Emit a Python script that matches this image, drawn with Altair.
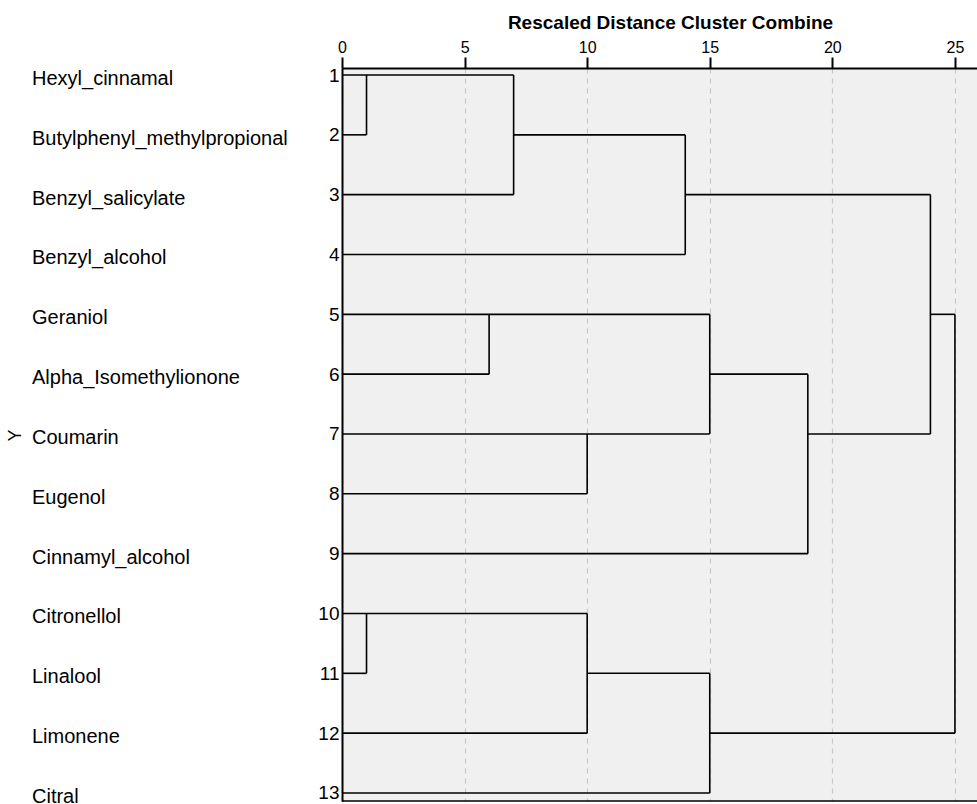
import altair as alt
import pandas as pd

# Leaf order (top to bottom) and their case numbers
names = ["Hexyl_cinnamal", "Butylphenyl_methylpropional", "Benzyl_salicylate",
         "Benzyl_alcohol", "Geraniol", "Alpha_Isomethylionone", "Coumarin",
         "Eugenol", "Cinnamyl_alcohol", "Citronellol", "Linalool", "Limonene", "Citral"]
rows = list(range(1, 14))

# Horizontal dendrogram segments: start distance, end distance, row
h_x1 = [0, 0, 7, 0, 14, 0, 0, 24, 0, 15, 0, 19, 0, 0, 0, 0, 10, 0, 15, 0]
h_x2 = [7, 1, 14, 7, 24, 14, 15, 25, 6, 19, 15, 24, 10, 19, 10, 1, 15, 10, 25, 15]
h_row = [1, 2, 2, 3, 3, 4, 5, 5, 6, 6, 7, 7, 8, 9, 10, 11, 11, 12, 12, 13]

# Vertical dendrogram segments: distance, top row, bottom row
v_x = [1, 7, 14, 6, 10, 15, 19, 24, 1, 10, 15, 25]
v_r1 = [1, 1, 2, 5, 7, 5, 6, 3, 10, 10, 11, 5]
v_r2 = [2, 3, 4, 6, 8, 7, 9, 7, 11, 12, 13, 12]

tick_values = [0, 5, 10, 15, 20, 25]

FONT = "Liberation Sans"

segs = pd.DataFrame({
    "x1": h_x1 + v_x,
    "x2": h_x2 + v_x,
    "y1": h_row + v_r1,
    "y2": h_row + v_r2,
})
leaves = pd.DataFrame({"row": rows, "name": names})

xscale = alt.Scale(domain=[0, 25.9], nice=False, zero=False)
yscale = alt.Scale(domain=[0.883, 13.134], nice=False, zero=False, reverse=True)

y_axis = alt.Axis(
    values=rows, format="d", title="Y",
    titleFont=FONT, titleFontSize=18, titleFontWeight="normal", titleColor="#000000",
    titleX=-327, titleY=367, titleAlign="center", titleBaseline="middle",
    labelFont=FONT, labelFontSize=19, labelColor="#000000", labelPadding=3,
    labelFlush=False, labelOverlap=False,
    ticks=False, grid=False,
    domainColor="#000000", domainWidth=2)

lines = alt.Chart(segs).mark_rule(color="#000000", strokeWidth=1.6).encode(
    x=alt.X("x1:Q", scale=xscale, axis=alt.Axis(
        orient="top", values=tick_values, title="Rescaled Distance Cluster Combine",
        titleFont=FONT, titleFontSize=19, titleFontWeight="bold", titleColor="#000000",
        titleX=328, titleY=-46, titleAlign="center", titleBaseline="middle", titleAngle=0,
        labelFont=FONT, labelFontSize=16, labelColor="#000000", labelPadding=2,
        labelFlush=False, labelOverlap=False,
        tickColor="#000000", tickSize=11, tickWidth=2,
        domainColor="#000000", domainWidth=2,
        grid=True, gridColor="#c8c8c8", gridDash=[5, 5], gridWidth=1.2)),
    x2="x2:Q",
    y=alt.Y("y1:Q", scale=yscale, axis=y_axis),
    y2="y2:Q",
)

labels = alt.Chart(leaves).mark_text(
    align="left", baseline="middle", font=FONT, fontSize=20, color="#000000", dy=4
).encode(
    x=alt.value(-310),
    y=alt.Y("row:Q", scale=yscale, axis=y_axis),
    text="name:N",
)

bottom = alt.Chart(pd.DataFrame({"k": [0]})).mark_rule(color="#000000", strokeWidth=1.5).encode(
    x=alt.value(0), x2=alt.value(635), y=alt.value(733)
)

chart = alt.layer(lines, labels, bottom).properties(
    width=635, height=733,
    autosize=alt.AutoSizeParams(type="none"),
    padding={"left": 342, "top": 68, "right": 0, "bottom": 3},
).configure_view(fill="#f0f0f0", stroke="transparent")

chart.save("out.html", embed_options={"renderer": "svg", "actions": False})
